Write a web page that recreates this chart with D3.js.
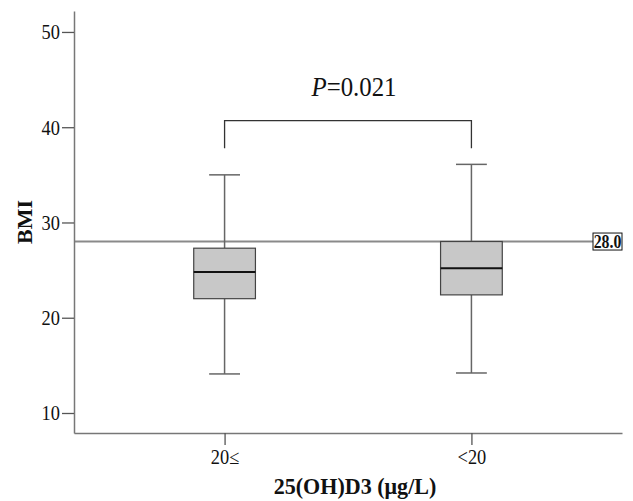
<!DOCTYPE html>
<html><head><meta charset="utf-8">
<script src="https://cdn.jsdelivr.net/npm/d3@7"></script>
<style>body{margin:0;background:#fff}svg{display:block}text{font-family:"Liberation Serif","Times New Roman",serif;fill:#111}</style>
</head><body><svg id="c" width="633" height="501"></svg>
<script>
const categories = ["20≤", "<20"];
const whiskerLow = [14.1, 14.2];
const q1 = [22.0, 22.4];
const median = [24.8, 25.2];
const q3 = [27.3, 28.0];
const whiskerHigh = [35.0, 36.1];
const refValue = 28.0;
const yTicks = [10, 20, 30, 40, 50];
const pLabel = "0.021";
const bracketLow = 37.8, bracketHigh = 40.7;

const svg = d3.select("#c");
const SX = 0.92;
const x = d3.scalePoint().domain(categories).range([74, 622]).padding(0.61);
const y = d3.scaleLinear().domain([7.9, 52.2]).range([433, 11]);
const step = x.step();
const boxW = step * 0.25;

// reference line
svg.append("line").attr("x1", 74).attr("x2", 593).attr("y1", y(refValue)).attr("y2", y(refValue))
  .attr("stroke", "#8a8a8a").attr("stroke-width", 2);

// boxes
const data = categories.map((c, i) => ({c, lo: whiskerLow[i], q1: q1[i], med: median[i], q3: q3[i], hi: whiskerHigh[i]}));
const g = svg.append("g");
data.forEach(d => {
  const cx = x(d.c);
  g.append("line").attr("x1", cx).attr("x2", cx).attr("y1", y(d.hi)).attr("y2", y(d.q3)).attr("stroke", "#666").attr("stroke-width", 1.5);
  g.append("line").attr("x1", cx).attr("x2", cx).attr("y1", y(d.q1)).attr("y2", y(d.lo)).attr("stroke", "#666").attr("stroke-width", 1.5);
  [d.hi, d.lo].forEach(v => g.append("line").attr("x1", cx - boxW / 4).attr("x2", cx + boxW / 4).attr("y1", y(v)).attr("y2", y(v)).attr("stroke", "#666").attr("stroke-width", 1.5));
  g.append("rect").attr("x", cx - boxW / 2).attr("y", y(d.q3)).attr("width", boxW).attr("height", y(d.q1) - y(d.q3))
    .attr("fill", "#c8c8c8").attr("stroke", "#444").attr("stroke-width", 1.2);
  g.append("line").attr("x1", cx - boxW / 2).attr("x2", cx + boxW / 2).attr("y1", y(d.med)).attr("y2", y(d.med)).attr("stroke", "#111").attr("stroke-width", 2);
});

// axes
const yAxis = svg.append("g").attr("transform", "translate(74,0)")
  .call(d3.axisLeft(y).tickValues(yTicks).tickSize(12).tickPadding(2).tickSizeOuter(0));
const xAxis = svg.append("g").attr("transform", "translate(0,433)")
  .call(d3.axisBottom(x).tickSize(12).tickPadding(4).tickSizeOuter(0));
[yAxis, xAxis].forEach(a => {
  a.attr("font-family", null);
  a.select(".domain").attr("stroke", "#777").attr("stroke-width", 1.5);
  a.selectAll(".tick line").attr("stroke", "#555").attr("stroke-width", 1.3);
  a.selectAll("text").attr("font-family", "Liberation Serif").attr("font-size", 20).attr("fill", "#111");
});
yAxis.selectAll(".tick text").attr("dy", "0.34em").each(function(){
  const t = d3.select(this); const xx = +t.attr("x");
  t.attr("x", null).attr("transform", `translate(${xx},0) scale(${SX},1)`);
});
xAxis.selectAll(".tick text").attr("dy", "0.75em").each(function(){
  const t = d3.select(this); const yy = +t.attr("y");
  t.attr("y", null).attr("transform", `translate(0,${yy}) scale(${SX},1)`);
});

// ref label
const ly = y(refValue);
svg.append("rect").attr("x", 593).attr("y", ly - 8.5).attr("width", 29).attr("height", 17).attr("fill", "#fff").attr("stroke", "#111").attr("stroke-width", 1);
svg.append("text").attr("transform", `translate(607.5,${ly + 6}) scale(0.88,1)`).attr("text-anchor", "middle")
  .attr("font-size", 18).attr("font-weight", "bold").text(refValue.toFixed(1));

// bracket
const x0 = x(categories[0]), x1 = x(categories[1]);
svg.append("path").attr("d", `M${x0},${y(bracketLow)}V${y(bracketHigh)}H${x1}V${y(bracketLow)}`)
  .attr("fill", "none").attr("stroke", "#333").attr("stroke-width", 1.3);
const pt = svg.append("text").attr("transform", `translate(${(x0 + x1) / 2 + 6},96) scale(${SX},1)`).attr("text-anchor", "middle").attr("font-size", 27);
pt.append("tspan").attr("font-style", "italic").text("P");
pt.append("tspan").text("=" + pLabel);

// axis titles
svg.append("text").attr("transform", `translate(355,494) scale(${SX},1)`).attr("text-anchor", "middle")
  .attr("font-size", 24).attr("font-weight", "bold").text("25(OH)D3 (μg/L)");
svg.append("text").attr("transform", `translate(32,222) rotate(-90) scale(1,${SX})`).attr("text-anchor", "middle")
  .attr("font-size", 22).attr("font-weight", "bold").text("BMI");
</script></body></html>
